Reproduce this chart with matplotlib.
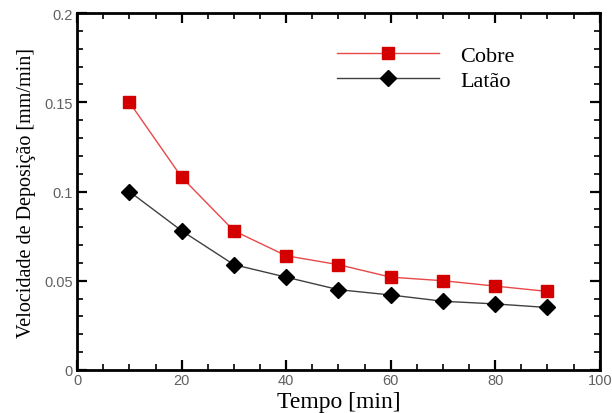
import matplotlib
matplotlib.use("Agg")
import matplotlib.pyplot as plt
from matplotlib.ticker import MultipleLocator

# deposition rate vs time
tempo = [10, 20, 30, 40, 50, 60, 70, 80, 90]
cobre = [0.150, 0.108, 0.078, 0.064, 0.059, 0.052, 0.050, 0.047, 0.044]
latao = [0.100, 0.078, 0.059, 0.052, 0.045, 0.042, 0.0385, 0.037, 0.035]

fig = plt.figure(figsize=(6.12, 4.14), dpi=100)
ax = fig.add_axes([0.126, 0.104, 0.854, 0.862])

ax.plot(tempo, cobre, color="#e84848", lw=1, marker="s", ms=8,
        mfc="#d40000", mec="#d40000", label="Cobre")
ax.plot(tempo, latao, color="#404040", lw=1, marker="D", ms=8.5,
        mfc="black", mec="black", label="Latão")

ax.set_xlim(0, 100)
ax.set_ylim(0, 0.2)
ax.xaxis.set_major_locator(MultipleLocator(20))
ax.xaxis.set_minor_locator(MultipleLocator(5))
ax.yaxis.set_minor_locator(MultipleLocator(0.01))
ax.set_yticks([0, 0.05, 0.1, 0.15, 0.2])
ax.set_yticklabels(["0", "0.05", "0.1", "0.15", "0.2"])

ax.tick_params(which="both", direction="in", top=True, right=True,
               labelsize=10.5, labelcolor="#606060", width=1.2)
ax.tick_params(which="major", length=7, width=1.6)
ax.tick_params(which="minor", length=4)
ax.tick_params(axis="x", pad=2)
ax.tick_params(axis="y", pad=3)
for lab in ax.get_xticklabels() + ax.get_yticklabels():
    lab.set_family("Liberation Sans")
for s in ax.spines.values():
    s.set_linewidth(2)

ax.set_xlabel("Tempo [min]", family="Liberation Serif", fontsize=17, labelpad=3)
ax.set_ylabel("Velocidade de Deposição [mm/min]", family="Liberation Serif",
              fontsize=14.5, labelpad=6)

leg = ax.legend(loc="upper left", bbox_to_anchor=(0.48, 0.935), frameon=False,
                prop={"family": "Liberation Serif", "size": 16},
                handlelength=4.6, handletextpad=0.95, labelspacing=0.22,
                borderaxespad=0)

fig.savefig("out.png", dpi=100)
